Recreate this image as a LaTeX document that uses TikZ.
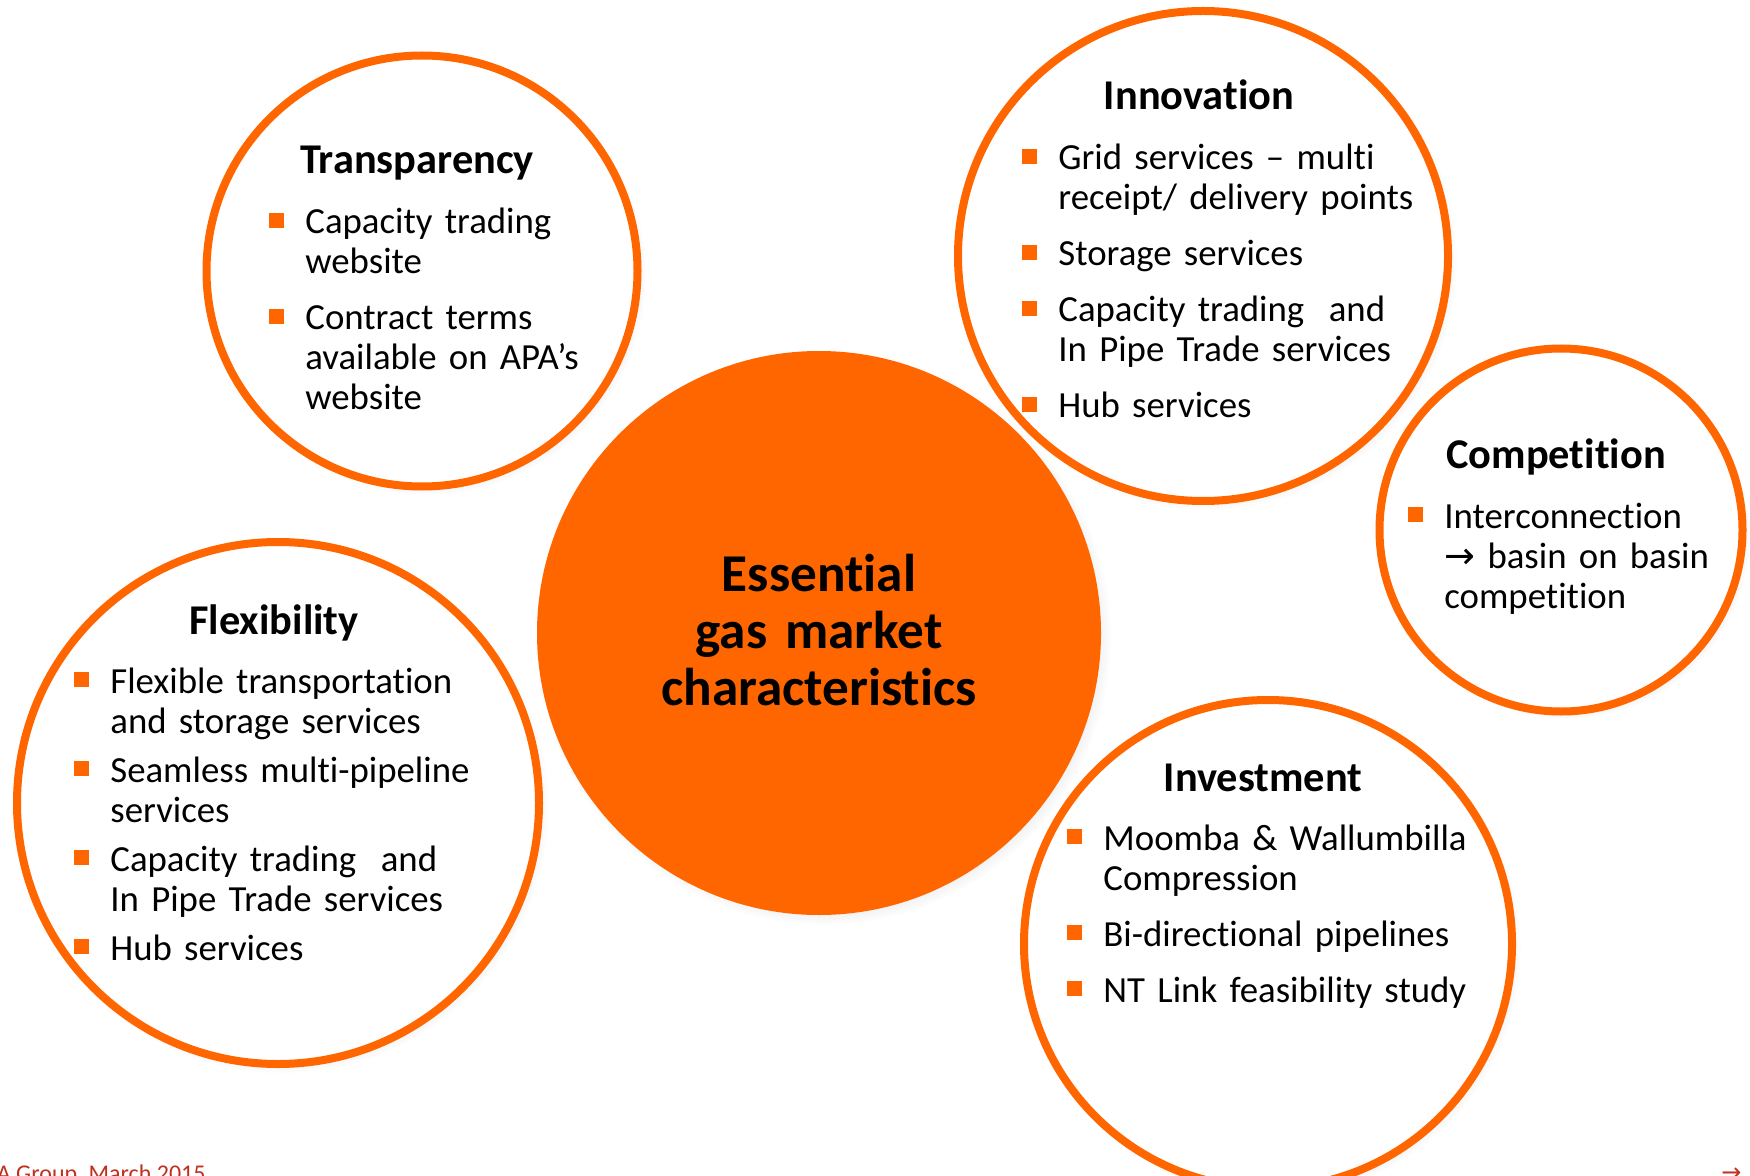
\documentclass[tikz,border=0pt]{standalone}
\usepackage{fontspec}
\setmainfont{Carlito}[Ligatures={TeX,NoCommon}]
\newfontfamily\arrowfont{DejaVu Sans}
\usetikzlibrary{shadows}
\definecolor{apaorange}{RGB}{255,102,0}
\definecolor{footred}{RGB}{192,48,32}
\newcommand{\sqbullet}{\makebox[18pt][l]{\textcolor{apaorange}{\rule[3pt]{7.5pt}{7.5pt}}}}
\newcommand{\bitem}[1]{\noindent\hangindent=18pt\hangafter=1\sqbullet#1\par}
\tikzstyle{theme} = [circle, draw=apaorange, line width=4pt, fill=white, circular drop shadow={shadow scale=1.02, shadow xshift=2pt, shadow yshift=-2pt, opacity=0.35}]
\tikzstyle{core} = [circle, fill=apaorange, circular drop shadow={shadow scale=1.02, shadow xshift=2pt, shadow yshift=-2pt, opacity=0.35}]
\tikzstyle{coretext} = [anchor=base, inner sep=0pt, text width=250pt, align=center, font=\fontsize{26.6}{28.5}\selectfont\bfseries]
\tikzstyle{heading} = [anchor=base, inner sep=0pt, font=\fontsize{21.2}{24}\selectfont\bfseries]
\tikzstyle{footer} = [anchor=base west, inner sep=0pt, text=footred, font=\fontsize{12}{14}\selectfont]
\tikzset{bulletlist/.style={anchor=base west, inner sep=0pt, text width=240pt, align=left,
    font=\fontsize{18.4}{20}\selectfont, execute at begin node={\setlength{\parskip}{#1}}},
  bulletlist/.default=8pt}

\begin{document}
\begin{tikzpicture}[x=0.5pt, y=-0.5pt]
\useasboundingbox (0,0) rectangle (1750,1176);

\node at (819, 633) (core) [core, minimum size=282pt] {};
\node at (819, 591) (coretitle) [coretext] {Essential\\gas market\\characteristics};

\node at (422, 271) (transp) [theme, minimum size=215.5pt] {};
\node at (1203, 256) (innov) [theme, minimum size=245pt] {};
\node at (1561, 530) (compet) [theme, minimum size=181.5pt] {};
\node at (278, 803) (flex) [theme, minimum size=261pt] {};
\node at (1268, 944) (invest) [theme, minimum size=244pt] {};

\node at (417, 174) (transptitle) [heading] {Transparency};
\node at (269, 234) (transplist) [bulletlist] {%
  \bitem{Capacity trading\newline website}
  \bitem{Contract terms\newline available on APA’s\newline website}};

\node at (1199, 110) (innovtitle) [heading] {Innovation};
\node at (1022, 170) (innovlist) [bulletlist] {%
  \bitem{Grid services – multi\newline receipt/ delivery points}
  \bitem{Storage services}
  \bitem{Capacity trading\ \ and\newline In Pipe Trade services}
  \bitem{Hub services}};

\node at (1556, 468) (compettitle) [heading] {Competition};
\node at (1408, 528) (competlist) [bulletlist] {%
  \bitem{Interconnection\newline {\arrowfont →} basin on basin\newline competition}};

\node at (274, 634) (flextitle) [heading] {Flexibility};
\node at (74, 693) (flexlist) [bulletlist=4.5pt] {%
  \bitem{Flexible transportation\newline and storage services}
  \bitem{Seamless multi-pipeline\newline services}
  \bitem{Capacity trading\ \ and\newline In Pipe Trade services}
  \bitem{Hub services}};

\node at (1263, 791) (investtitle) [heading] {Investment};
\node at (1067, 850) (investlist) [bulletlist] {%
  \bitem{Moomba \& Wallumbilla\newline Compression}
  \bitem{Bi-directional pipelines}
  \bitem{NT Link feasibility study}};

\node at (-28, 1181) (footnote) [footer] {APA Group, March 2015};
\node at (1721, 1180) (nextpage) [footer] {\arrowfont →};

\end{tikzpicture}
\end{document}
